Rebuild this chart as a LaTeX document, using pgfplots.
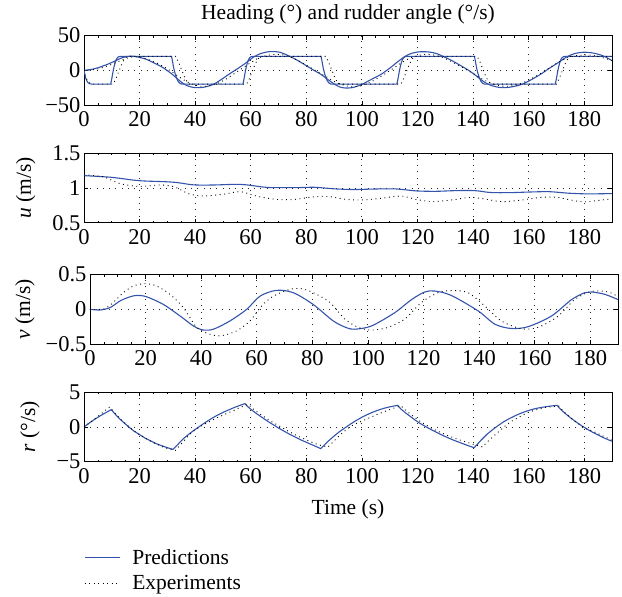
\documentclass[border=0pt]{standalone}
\usepackage{fontspec}
\setmainfont{Liberation Serif}
\usepackage{pgfplots}
\pgfplotsset{compat=1.18}
\definecolor{pblue}{RGB}{52,84,172}
\newcommand{\fs}{\fontsize{21.5}{25}\selectfont}
\newcommand{\ft}{\fontsize{22.5}{26}\selectfont}
\pgfplotsset{
  panel/.style={
    scale only axis, width=528pt, height=69.4pt,
    xmin=0, xmax=190, xtick={0,20,...,180},
    minor x tick num=3,
    tick align=inside, major tick length=4pt, minor tick length=2pt,
    axis line style={black, line width=0.8pt},
    every tick/.style={black, line width=0.6pt},
    grid=major,
    grid style={black!85, line width=0.8pt, dash pattern=on 0.8pt off 5.5pt},
    tick label style={font=\ft},
    xticklabel style={yshift=-3pt},
    label style={font=\fs},
    ylabel shift=10pt,
    title style={font=\fs},
    /pgf/number format/assume math mode=true,
    clip=true,
  },
  pred/.style={pblue, line width=1.1pt},
  expe/.style={black, line width=0.9pt, dash pattern=on 0.9pt off 3.6pt},
}
\begin{document}
\begin{tikzpicture}
\path[use as bounding box] (0,0) rectangle (622pt,597pt);

% Panel 1: heading and rudder
\begin{axis}[panel, at={(84pt,492pt)}, anchor=south west,
  ymin=-50, ymax=50, ytick={-50,0,50}, yticklabels={−50,0,50},
  title={Heading (°) and rudder angle (°/s)}, title style={yshift=2pt}]
\addplot[pred] coordinates {
(0,0) (0.3,-6) (0.6,-11) (1,-15) (1.5,-18) (2,-19.3) (3,-20) (9.6,-20)
(10.0,-12) (10.4,-3) (10.8,5) (11.2,11) (11.6,15.5) (12.1,18.5) (12.6,19.7) (13.1,20)
(31.5,20) (31.9,12) (32.3,3) (32.8,-5) (33.3,-11) (33.8,-15.5) (34.4,-18.5) (35,-19.7) (35.6,-20)
(57.2,-20) (57.6,-12) (58.0,-3) (58.4,5) (58.8,11) (59.2,15.5) (59.7,18.5) (60.2,19.7) (60.8,20)
(85.3,20) (85.7,12) (86.1,3) (86.6,-5) (87.1,-11) (87.6,-15.5) (88.2,-18.5) (88.8,-19.7) (89.4,-20)
(112.6,-20) (113,-12) (113.4,-3) (113.8,5) (114.2,11) (114.6,15.5) (115.1,18.5) (115.6,19.7) (116.2,20)
(140.5,20) (140.9,12) (141.3,3) (141.8,-5) (142.3,-11) (142.8,-15.5) (143.4,-18.5) (144,-19.7) (144.6,-20)
(169.6,-20) (170,-12) (170.4,-3) (170.8,5) (171.2,11) (171.6,15.5) (172.1,18.5) (172.6,19.7) (173.2,20)
(190,20)};
\addplot[pred, smooth] coordinates {
(0,0) (3,1.5) (6,5) (9,9.5) (12,15) (14,18.5) (16.5,20.3) (19,19.5) (22.5,15.7) (25.5,10) (28.5,3.6)
(31.5,-5) (34.4,-15) (36.5,-21) (38.5,-24) (40.5,-25) (43,-24.5) (46.4,-20.5) (49.5,-13) (52.4,-5)
(55.5,3) (58.4,11) (61,19) (63.5,24) (66,26.5) (68,27) (70.5,26) (73.3,21.5) (76.5,15) (79.3,8.4)
(82.3,1) (85.3,-6) (88,-14) (90,-19.6) (92,-24) (94,-25.5) (96.5,-25) (99.6,-21) (103,-14) (106.8,-6)
(110,3) (112.8,12) (115.5,20) (117.6,24) (120,26.3) (122,26.8) (124.5,26.2) (127,24) (129.5,19.5)
(131.9,15) (135,8) (137.9,1.2) (140.5,-6) (142.7,-13) (144.5,-18) (146.3,-21.5) (148.5,-24) (150.5,-25)
(153,-24.5) (157,-21) (160.5,-14.5) (164.2,-6) (167.5,3) (171.4,13) (173.8,19.5) (176.5,24) (179.8,26)
(183,25) (186,22) (188,18.5) (190,14)};
\addplot[expe] coordinates {
(0,0) (0.5,-8) (1,-13) (2,-18) (3,-20) (10.5,-20) (11.5,-12) (12.5,-2) (13.5,8) (14.5,16) (15.5,20)
(33,20) (34,12) (35,2) (36,-8) (37,-16) (38,-20) (58.5,-20) (59.5,-12) (60.5,-2) (61.5,8) (62.5,16) (63.5,20)
(87,20) (88,12) (89,2) (90,-8) (91,-16) (92,-20) (114,-20) (115,-12) (116,-2) (117,8) (118,16) (119,20)
(141.5,20) (142.5,12) (143.5,2) (144.5,-8) (145.5,-16) (146.5,-20) (170,-20) (171,-12) (172,-2) (173,8)
(174,16) (175,20) (190,20)};
\addplot[expe, smooth] coordinates {
(0,0) (3,0.5) (6,3) (9,7) (12,12) (15,17) (18,19.5) (21,18.5) (24,14) (27,9) (30,2) (33,-6) (36,-14)
(39,-20) (42,-23) (45,-22.5) (48,-19) (51,-13) (54,-5) (57,3) (60,11) (63,18) (66,21.5) (69,23) (72,22)
(75,18) (78,12) (81,5) (84,-2) (87,-9) (90,-16) (93,-21) (96,-23.5) (99,-23) (102,-19) (105,-13) (108,-6)
(111,2) (114,10) (117,17) (120,21) (123,23) (126,22) (129,18.5) (132,13) (135,6.5) (138,0) (141,-7)
(144,-14) (147,-19.5) (150,-22.5) (153,-23) (156,-21) (159,-16) (162,-10) (165,-3) (168,5) (171,12)
(174,18) (177,21) (180,22) (183,21.5) (186,19) (190,14)};
\end{axis}

% Panel 2: u
\begin{axis}[panel, at={(84pt,374.3pt)}, anchor=south west,
  ymin=0.5, ymax=1.5, ytick={0.5,1,1.5}, yticklabels={0.5,1,1.5},
  ylabel={\textit{u} (m/s)}]
\addplot[pred, smooth] coordinates {
(0,1.178) (9.8,1.154) (19.7,1.106) (29.5,1.09) (33.8,1.077) (39.4,1.045) (46.4,1.043) (54.8,1.053)
(59,1.043) (66.1,1.008) (75.9,1.005) (83,1.01) (90,0.988) (97,0.978) (105.5,0.986) (112.5,0.986)
(119.5,0.958) (126.6,0.952) (133.6,0.962) (140.6,0.962) (146.3,0.935) (153.3,0.933) (160.3,0.942)
(167.4,0.947) (174.4,0.925) (181.4,0.915) (190,0.92)};
\addplot[expe, smooth] coordinates {
(0,1.19) (7,1.16) (12.7,1.067) (19.7,1.02) (26.7,1.043) (32.3,1.02) (38,0.913) (43.6,0.885)
(50.6,0.913) (56.3,0.947) (61.9,0.885) (68.9,0.836) (75.9,0.836) (83,0.875) (88.6,0.875) (94.2,0.836)
(99.9,0.827) (106.9,0.851) (113.9,0.885) (119.5,0.836) (125.2,0.803) (132.2,0.827) (139.2,0.865)
(144.9,0.836) (150.5,0.803) (157.5,0.827) (164.6,0.865) (170.2,0.865) (177.2,0.812) (181.4,0.803)
(187.8,0.835) (190,0.84)};
\end{axis}

% Panel 3: v
\begin{axis}[panel, at={(90pt,253pt)}, anchor=south west,
  ymin=-0.5, ymax=0.5, ytick={-0.5,0,0.5}, yticklabels={−0.5,0,0.5},
  ylabel={\textit{v} (m/s)}, ylabel shift=4pt]
\addplot[pred, smooth] coordinates {
(0,0) (3.6,-0.01) (7.2,0.024) (10.8,0.12) (14.4,0.18) (17,0.2) (20.4,0.18) (26.4,0.07) (32.4,-0.096)
(37.2,-0.24) (40.5,-0.297) (44.4,-0.287) (50.4,-0.167) (56.4,0) (61.2,0.19) (67.1,0.273) (73.1,0.24)
(80.3,0.07) (87.5,-0.167) (92.3,-0.265) (95.3,-0.287) (101.3,-0.24) (109.7,-0.048) (115.7,0.14)
(120.5,0.25) (124.1,0.263) (130,0.2) (139.7,-0.024) (145.7,-0.215) (151.7,-0.277) (157.7,-0.25)
(166.1,-0.096) (173.3,0.14) (178.1,0.24) (180.5,0.25) (185.3,0.215) (190,0.14)};
\addplot[expe, smooth] coordinates {
(0,0) (5,0.005) (8.4,0.1) (12,0.24) (15.6,0.335) (19.8,0.37) (24,0.335) (28.8,0.215) (33.6,0.024)
(38.4,-0.26) (43.2,-0.36) (47.4,-0.38) (52.8,-0.31) (57.6,-0.167) (61.8,0.05) (66,0.19) (71.9,0.287)
(76,0.297) (80.3,0.24) (86.3,0.1) (91.7,-0.14) (96.5,-0.26) (101.3,-0.3) (107.3,-0.26) (113.3,-0.14)
(119.3,0.1) (125.3,0.24) (130,0.27) (136,0.24) (142,0.05) (148,-0.167) (155.2,-0.28) (161.2,-0.26)
(168.4,-0.1) (174.4,0.14) (180.5,0.26) (186.5,0.25) (190,0.18)};
\end{axis}

% Panel 4: r
\begin{axis}[panel, at={(84pt,135.3pt)}, anchor=south west,
  ymin=-5, ymax=5, ytick={-5,0,5}, yticklabels={−5,0,5},
  ylabel={\textit{r} (°/s)}, xlabel={Time (s)}, xlabel style={yshift=-9pt},
  legend style={at={(0,-1.265)}, anchor=north west, draw=none, fill=none,
    font=\fs, row sep=9pt, column sep=12pt, inner sep=0pt,
    nodes={inner sep=0pt, anchor=west}},
  legend cell align=left,
  legend image code/.code={\draw[#1] (0pt,0pt) -- (35pt,0pt);}]
\addplot[pred] coordinates {
(0,0) (2,0.6) (4,1.15) (6,1.65) (8,2.1) (9.8,2.5)
(11,1.95) (12.5,1.3) (14,0.75) (16,0.05) (18,-0.6) (20,-1.1) (22,-1.6) (24,-2.0) (26,-2.4) (28,-2.7) (30,-2.98) (32,-3.22)
(33,-2.85) (34.5,-2.2) (36,-1.6) (38,-0.95) (40,-0.35) (42,0.2) (44,0.75) (46,1.25) (48,1.7) (50,2.1) (52,2.45) (54,2.8) (56,3.1) (57.9,3.37)
(59,2.9) (60.5,2.4) (62,1.95) (64,1.4) (66,0.85) (68,0.35) (70,-0.15) (72,-0.6) (74,-1.05) (76,-1.45) (78,-1.85) (80,-2.2) (82,-2.55) (84,-2.9) (85.2,-3.125)
(86.5,-2.6) (88,-2.0) (90,-1.3) (92,-0.65) (94,-0.1) (96,0.45) (98,0.95) (100,1.4) (102,1.8) (104,2.15) (106,2.45) (108,2.7) (110,2.9) (112.9,3.125)
(114,2.6) (115.5,2.1) (117,1.65) (119,1.05) (121,0.5) (123,0.05) (125,-0.4) (127,-0.8) (129,-1.2) (131,-1.55) (133,-1.9) (135,-2.2) (137,-2.5) (139,-2.8) (140.4,-2.98)
(141.5,-2.5) (143,-1.85) (145,-1.05) (147,-0.4) (149,0.2) (151,0.75) (153,1.2) (155,1.6) (157,1.95) (159,2.25) (161,2.5) (163,2.7) (165,2.85) (167,2.97) (170.2,3.125)
(171.5,2.55) (173,2.0) (175,1.35) (177,0.75) (179,0.2) (181,-0.3) (183,-0.75) (185,-1.15) (187,-1.55) (189,-1.9) (190,-2.05)};
\addlegendentry{Predictions}
\addplot[expe] coordinates {
(0,0) (2,0.6) (4,1.2) (6,1.85) (8,2.5) (9.2,2.88)
(10.5,2.3) (12,1.6) (14,0.8) (16,0.1) (18,-0.55) (20,-1.1) (22,-1.6) (24,-2.05) (26,-2.45) (28,-2.8) (30,-3.1) (32.9,-3.37)
(34,-2.9) (35.5,-2.2) (37,-1.5) (38.5,-0.9) (40,-0.4) (42,0.1) (44,0.55) (46,0.95) (48,1.35) (50,1.7) (52,2.05) (54,2.4) (56,2.8) (58,3.1) (59.1,3.27)
(60.5,2.7) (62,2.25) (64,1.7) (66,1.15) (68,0.65) (70,0.2) (72,-0.25) (74,-0.7) (76,-1.1) (78,-1.5) (80,-1.85) (82,-2.2) (84,-2.5) (86,-2.75) (87.8,-2.9)
(89,-2.4) (90.5,-1.8) (92,-1.2) (94,-0.5) (96,0.1) (98,0.5) (100,0.85) (102,1.2) (104,1.55) (106,1.9) (108,2.2) (110,2.5) (112,2.8) (114.1,3.03)
(115.5,2.5) (117,2.0) (119,1.4) (121,0.8) (123,0.3) (125,-0.15) (127,-0.55) (129,-0.9) (131,-1.25) (133,-1.55) (135,-1.85) (137,-2.1) (139,-2.35) (141,-2.6) (143.4,-2.88)
(144.5,-2.4) (146,-1.8) (148,-1.1) (150,-0.4) (152,0.3) (154,0.85) (156,1.3) (158,1.75) (160,2.1) (162,2.4) (164,2.6) (166,2.8) (168,2.92) (170.8,3.03)
(172,2.5) (173.5,1.9) (175,1.35) (177,0.75) (179,0.15) (181,-0.3) (183,-0.6) (185,-0.95) (187,-1.35) (189,-1.7) (190,-1.95)};
\addlegendentry{Experiments}
\end{axis}
\end{tikzpicture}
\end{document}
